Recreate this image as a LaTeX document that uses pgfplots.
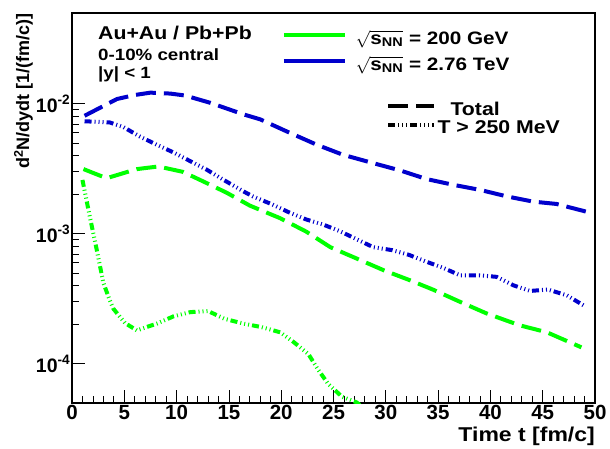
\documentclass[border=0pt]{standalone}
\usepackage{fontspec}
\setmainfont{Liberation Sans}[FakeStretch=1.15]
\newfontfamily\plainfont{Liberation Sans}
\usepackage{amsmath}
\usepackage{pgfplots}
\pgfplotsset{compat=1.18}
\definecolor{rgreen}{RGB}{0,255,0}
\definecolor{rblue}{RGB}{0,0,204}
\tikzset{
  rdash/.style={dash pattern=on 20bp off 8bp},
  rdashdot/.style={dash pattern=on 7bp off 3bp on 1bp off 3bp on 1bp off 3bp on 1bp off 3bp},
}
\begin{document}
\begin{tikzpicture}
\begin{axis}[
  name=ax,
  ymode=log,
  width=523bp, height=390bp, scale only axis,
  xmin=0, xmax=50, ymin=5e-5, ymax=0.05,
  xtick={0,5,...,50},
  minor x tick num=4,
  xticklabels={0,5,10,15,20,25,30,35,40,45,50},
  ytick={1e-4,1e-3,1e-2},
  yticklabels={10\textsuperscript{-4},10\textsuperscript{-3},10\textsuperscript{-2}},
  tick align=inside, xtick pos=left, ytick pos=left,
  major tick length=13bp, minor tick length=7bp,
  every tick/.style={black, line width=0.8bp},
  axis line style={line width=1.5bp},
  xticklabel style={font=\plainfont\fontsize{20.5bp}{22bp}\selectfont\bfseries, inner sep=2bp},
  yticklabel style={font=\plainfont\fontsize{19.5bp}{22bp}\selectfont\bfseries, inner sep=1.5bp},
  xlabel={Time t [fm/c]},
  ylabel={d\textsuperscript{2}N/dydt [1/(fm/c)]},
  every axis x label/.style={at={(rel axis cs:1,-0.0615)}, anchor=north east, inner sep=0pt,
    font=\fontsize{20bp}{22bp}\selectfont\bfseries},
  every axis y label/.style={at={(rel axis cs:-0.0746,1)}, rotate=90, anchor=south east, inner sep=0pt,
    font=\plainfont\fontsize{18bp}{20bp}\selectfont\bfseries},
  legend style={at={(rel axis cs:0.4015,0.955)}, anchor=north west, draw=none, fill=none,
    inner sep=0pt, outer sep=0pt, row sep=11bp, font=\fontsize{18bp}{20bp}\selectfont\bfseries,
    nodes={inner sep=0pt},
    /tikz/every odd column/.append style={column sep=9bp}},
  legend image code/.code={\draw[#1] (0bp,3bp) -- (61bp,3bp);},
  legend cell align=left,
]
\addlegendimage{rgreen, solid, line width=4bp}
\addlegendentry{$\sqrt{\textbf{s}_{\textbf{NN}}}$ = 200 GeV}
\addlegendimage{rblue, solid, line width=4bp}
\addlegendentry{$\sqrt{\textbf{s}_{\textbf{NN}}}$ = 2.76 TeV}

% LHC total
\addplot[forget plot, rblue, line width=4bp, rdash] coordinates {
(1.2,0.0081)(4.3,0.0109)(6,0.0117)(7.5,0.0122)(9.4,0.0120)(10.8,0.0116)(13.2,0.0102)
(16.4,0.0083)(18,0.0076)(20.8,0.0060)(23.4,0.00485)(25.9,0.00406)(28.8,0.0035)
(31.4,0.00307)(33.9,0.00264)(36.5,0.00238)(39,0.00218)(41.6,0.00194)(44.1,0.00177)
(46.3,0.0017)(49.2,0.00148)};
% LHC T>250
\addplot[forget plot, rblue, line width=4bp, rdashdot] coordinates {
(1.2,0.00735)(3.6,0.0072)(4.9,0.00664)(6.5,0.0056)(8.1,0.00485)(9.7,0.00423)
(12.9,0.00311)(14.5,0.0026)(16.4,0.00212)(17.3,0.00194)(19.1,0.00169)(20.7,0.00147)
(22.4,0.00129)(24,0.00118)(25.6,0.00105)(27.2,0.00091)(28.8,0.00079)(30.6,0.00075)
(32.2,0.00069)(33.9,0.00061)(35.5,0.000547)(37.1,0.00048)(39,0.00048)(40.6,0.000467)
(42.2,0.000402)(43.8,0.000364)(45.5,0.000373)(47.3,0.000337)(48.9,0.000282)};
% RHIC total
\addplot[forget plot, rgreen, line width=4bp, rdash] coordinates {
(1.1,0.00315)(3.3,0.00268)(6.2,0.00315)(8.25,0.0033)(10.6,0.0030)(12.6,0.00252)
(14.8,0.00207)(17,0.00165)(19.9,0.00132)(22.4,0.00104)(24.7,0.00079)(27.2,0.000647)
(29.8,0.000525)(32.3,0.00044)(34.5,0.000373)(37.1,0.0003)(39.6,0.000245)
(42.8,0.000198)(45.4,0.000175)(48.7,0.000134)};
% RHIC T>250
\addplot[forget plot, rgreen, line width=4bp, rdashdot] coordinates {
(1.0,0.0026)(1.7,0.00136)(2.3,0.00080)(3.0,0.00042)(3.6,0.00031)(3.95,0.000266)
(5.07,0.000206)(6.2,0.000181)(8.1,0.000204)(9.7,0.000232)(11.3,0.00025)(13,0.000255)
(14.6,0.000222)(16.4,0.000204)(18.1,0.000192)(19.9,0.000175)(21.2,0.000147)
(22.6,0.000119)(23.5,0.000091)(24.5,0.00007)(25.8,0.000056)(27.2,0.0000506)(28,0.000045)};

\node[anchor=base west, inner sep=0pt, font=\fontsize{18.5bp}{20bp}\selectfont\bfseries] at (rel axis cs:0.0497,0.9308) {Au+Au / Pb+Pb};
\node[anchor=base west, inner sep=0pt, font=\fontsize{16.3bp}{18bp}\selectfont\bfseries] at (rel axis cs:0.0497,0.8795) {0-10\% central};
\node[anchor=base west, inner sep=0pt, font=\fontsize{16.3bp}{18bp}\selectfont\bfseries] at (rel axis cs:0.0497,0.8333) {|y| < 1};
\end{axis}
\begin{axis}[
  width=523bp, height=390bp, scale only axis, at={(ax.south west)}, anchor=south west,
  hide axis, xmin=0, xmax=1, ymin=0, ymax=1,
  legend style={at={(rel axis cs:0.6004,0.772)}, anchor=north west, draw=none, fill=none,
    inner sep=0pt, outer sep=0pt, row sep=3.5bp, font=\fontsize{18.5bp}{20bp}\selectfont\bfseries,
    nodes={inner sep=0pt},
    /tikz/every odd column/.append style={column sep=1.5bp}},
  legend image code/.code={\draw[#1] (0bp,3bp) -- (46bp,3bp);},
  legend cell align=left,
]
\addlegendimage{black, line width=4bp, rdash}
\addlegendentry{\hspace*{13bp}Total}
\addlegendimage{black, line width=4bp, rdashdot}
\addlegendentry{T > 250 MeV}
\end{axis}
\pgfresetboundingbox
\path[use as bounding box] ([xshift=-72bp,yshift=-45bp]ax.south west) rectangle ([xshift=15bp,yshift=13bp]ax.north east);
\end{tikzpicture}
\end{document}
